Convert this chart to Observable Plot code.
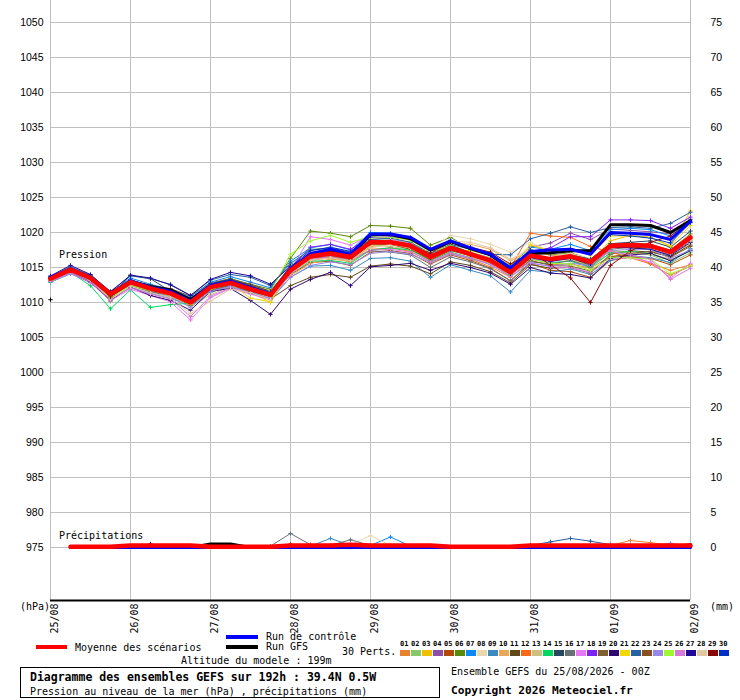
<!DOCTYPE html>
<html><head><meta charset="utf-8">
<script src="https://cdn.jsdelivr.net/npm/d3@7"></script>
<script src="https://cdn.jsdelivr.net/npm/@observablehq/plot@0.6"></script>
<style>
body{margin:0;background:#fff;}
#wrap{position:relative;width:740px;height:700px;font-family:"DejaVu Sans Mono",monospace;font-size:10px;color:#000;overflow:hidden;}
#chart{position:absolute;left:0;top:0;}
.t{position:absolute;white-space:pre;line-height:12px;}
.b{font-weight:bold;}
.sw{position:absolute;}
</style></head><body>
<div id="wrap">
<div id="chart"></div>
<div class="t" style="left:59px;top:249px;">Pression</div>
<div class="t" style="left:59px;top:530px;">Précipitations</div>
<div class="t" style="left:20px;top:601px;">(hPa)</div>
<div class="t" style="left:710px;top:601px;">(mm)</div>

<div class="sw" style="left:36px;top:645px;width:31px;height:4px;background:#ff0000;"></div>
<div class="t" style="left:75px;top:642px;">Moyenne des scénarios</div>
<div class="sw" style="left:226px;top:635px;width:32px;height:4px;background:#0000ff;"></div>
<div class="t" style="left:266px;top:631px;">Run de contrôle</div>
<div class="sw" style="left:226px;top:645px;width:32px;height:4px;background:#000000;"></div>
<div class="t" style="left:266px;top:641px;">Run GFS</div>
<div class="t" style="left:181px;top:655px;">Altitude du modele : 199m</div>
<div class="t" style="left:342px;top:646px;">30 Perts.</div>
<div id="perts"></div>

<div class="sw" style="left:20px;top:667px;width:420px;height:31px;border:1px solid #000;box-sizing:border-box;"></div>
<div class="t b" style="left:30px;top:671px;font-size:11.5px;">Diagramme des ensembles GEFS sur 192h : 39.4N 0.5W</div>
<div class="t" style="left:30px;top:686px;">Pression au niveau de la mer (hPa) , précipitations (mm)</div>
<div class="t" style="left:451px;top:666px;">Ensemble GEFS du 25/08/2026 - 00Z</div>
<div class="t b" style="left:451px;top:685px;font-size:11.2px;">Copyright 2026 Meteociel.fr</div>
</div>
<script>
// ---- time axis ----
const steps = [0,6,12,18,24,30,36,42,48,54,60,66,72,78,84,90,96,102,108,114,120,126,132,138,144,150,156,162,168,174,180,186,192];
const dayTicks = [0,24,48,72,96,120,144,168,192];
const dayLabels = ["25/08","26/08","27/08","28/08","29/08","30/08","31/08","01/09","02/09"];
const hpaTicks = [975,980,985,990,995,1000,1005,1010,1015,1020,1025,1030,1035,1040,1045,1050];
const mmTicks = [0,5,10,15,20,25,30,35,40,45,50,55,60,65,70,75];
const precipZero = 975; // hPa level where 0 mm sits on the right axis

const memberNames = ["01","02","03","04","05","06","07","08","09","10","11","12","13","14","15","16","17","18","19","20","21","22","23","24","25","26","27","28","29","30"];
const memberColors = ["#e8822e","#88c86a","#f0c000","#8e4ea8","#b04a0a","#5a8a0a","#0a88f8","#e8d8b0","#3a8cc0","#e8a858","#604818","#f86818","#d0c080","#00d860","#284860","#687078","#e878f8","#8020f8","#806030","#300870","#f0d800","#2860a0","#8a5020","#9888e8","#a0f830","#d878d8","#200898","#e0c8a0","#880808","#0030c0"];

// ---- sea level pressure (hPa), one value per step ----
const p01 = [1013.2,1014.5,1013.3,1010.8,1012.6,1011.8,1011.0,1009.8,1012.0,1012.7,1011.7,1010.8, 1014.2,1016.0,1016.4,1015.8,1017.6,1017.8,1017.3,1015.8,1017.0,1016.2,1015.1,1013.6, 1016.0,1015.4,1015.5,1014.9,1016.6,1016.8,1015.6,1014.6,1015.4];
const p02 = [1013.6,1014.9,1013.8,1011.3,1013.1,1012.3,1011.6,1010.3,1012.5,1013.1,1012.1,1011.4, 1015.3,1017.6,1017.8,1017.0,1019.2,1019.0,1018.6,1017.0,1018.2,1017.2,1016.4,1014.9, 1017.0,1016.3,1016.0,1015.3,1017.0,1017.2,1016.8,1015.6,1017.1];
const p03 = [1013.3,1014.6,1013.4,1010.9,1012.7,1011.9,1011.1,1009.9,1012.0,1012.6,1011.5,1010.0, 1014.4,1016.8,1017.2,1016.0,1018.0,1018.3,1017.8,1016.1,1017.5,1017.4,1016.8,1015.4, 1018.2,1017.4,1017.0,1015.9,1018.8,1019.6,1019.3,1018.0,1023.1];
const p04 = [1013.5,1014.8,1013.6,1011.0,1013.0,1012.1,1011.4,1010.2,1012.4,1013.0,1011.9,1011.0, 1014.8,1016.9,1017.4,1016.8,1019.0,1018.8,1018.4,1016.9,1018.0,1016.8,1015.8,1014.0, 1017.9,1018.5,1019.9,1019.0,1020.5,1020.3,1020.1,1019.8,1021.9];
const p05 = [1013.7,1014.9,1013.9,1011.5,1013.2,1012.4,1012.0,1010.9,1012.8,1013.4,1012.5,1011.2, 1014.0,1015.7,1015.9,1015.3,1017.2,1017.4,1017.0,1015.5,1016.8,1016.0,1014.9,1013.1, 1015.6,1014.6,1014.4,1013.6,1016.0,1016.5,1016.3,1015.4,1016.8];
const p06 = [1013.4,1014.7,1013.6,1011.2,1013.1,1012.5,1011.8,1010.6,1012.6,1013.4,1012.6,1011.9, 1016.3,1020.2,1019.9,1019.4,1021.0,1020.9,1020.6,1018.2,1019.3,1017.7,1016.8,1015.0, 1017.4,1016.8,1017.1,1016.2,1018.4,1018.5,1018.3,1017.5,1019.8];
const p07 = [1013.6,1015.0,1013.8,1011.4,1013.5,1012.6,1011.9,1010.8,1012.9,1013.7,1012.9,1012.1, 1015.9,1017.8,1018.3,1017.5,1020.0,1019.9,1019.3,1017.3,1018.9,1017.8,1016.9,1015.2, 1017.9,1017.6,1018.3,1017.4,1020.4,1020.6,1020.4,1019.5,1021.8];
const p08 = [1013.1,1014.4,1013.2,1010.6,1012.5,1011.6,1010.9,1009.6,1011.3,1012.6,1012.2,1011.7, 1014.9,1016.9,1017.6,1017.2,1019.1,1019.3,1018.9,1017.6,1019.6,1019.1,1018.3,1017.2, 1018.6,1017.3,1017.0,1016.3,1017.8,1018.0,1017.5,1016.4,1018.4];
const p09 = [1012.9,1014.1,1012.9,1010.4,1012.2,1011.3,1010.6,1009.5,1011.5,1012.2,1011.3,1010.4, 1013.6,1015.2,1015.3,1014.6,1016.3,1016.4,1015.9,1013.6,1015.4,1014.6,1013.8,1011.5, 1014.6,1014.3,1014.8,1014.0,1016.0,1016.7,1016.4,1015.7,1017.7];
const p10 = [1013.5,1014.8,1013.7,1011.1,1012.9,1012.1,1011.5,1010.3,1012.3,1013.0,1012.0,1011.3, 1013.8,1015.6,1016.2,1015.9,1018.0,1018.4,1018.4,1016.8,1018.6,1018.3,1017.6,1016.0, 1017.2,1016.8,1016.4,1015.2,1017.4,1017.2,1016.9,1016.2,1018.6];
const p11 = [1013.0,1014.3,1013.0,1010.2,1012.4,1011.5,1011.0,1009.6,1011.8,1012.4,1011.4,1010.5, 1012.4,1013.6,1014.0,1013.6,1015.2,1015.5,1015.2,1014.1,1015.8,1015.3,1014.4,1012.8, 1015.4,1014.9,1015.0,1014.2,1016.9,1017.4,1017.2,1016.6,1018.2];
const p12 = [1013.3,1014.6,1013.5,1011.0,1012.8,1011.9,1011.2,1010.0,1012.1,1012.8,1011.8,1011.0, 1014.4,1016.3,1016.6,1016.2,1018.3,1018.5,1018.0,1016.4,1017.7,1016.9,1016.2,1015.0, 1019.9,1019.5,1019.3,1018.0,1017.2,1016.4,1015.5,1013.9,1015.2];
const p13 = [1013.2,1014.4,1013.3,1010.7,1012.6,1011.7,1010.9,1009.4,1011.1,1012.3,1011.6,1010.9, 1014.7,1016.5,1016.8,1016.6,1018.2,1018.0,1017.6,1016.2,1017.6,1017.0,1016.3,1014.9, 1016.5,1016.2,1016.1,1015.5,1017.3,1017.2,1016.9,1016.0,1017.5];
const p14 = [1012.9,1014.3,1012.4,1009.1,1011.8,1009.3,1009.7,1009.9,1011.9,1012.6,1011.5,1010.6, 1014.1,1015.9,1016.0,1015.6,1017.5,1017.8,1017.5,1016.0,1017.2,1016.4,1015.5,1014.0, 1016.2,1015.7,1015.9,1015.0,1017.1,1017.3,1017.0,1016.0,1017.4];
const p15 = [1013.6,1014.8,1013.6,1011.0,1013.9,1013.4,1011.6,1010.4,1012.6,1013.2,1012.5,1011.6, 1014.9,1016.9,1017.5,1016.9,1018.9,1018.8,1018.3,1016.7,1018.2,1017.1,1016.1,1014.3, 1016.5,1015.9,1016.8,1016.2,1018.4,1018.6,1018.8,1017.9,1020.2];
const p16 = [1013.4,1014.6,1013.3,1010.8,1012.5,1011.6,1011.0,1009.8,1011.7,1012.4,1011.6,1010.9, 1014.6,1016.6,1016.7,1016.2,1017.4,1017.2,1016.8,1015.0,1016.5,1015.8,1014.8,1013.1, 1015.8,1015.5,1016.0,1015.1,1017.6,1017.9,1017.6,1016.8,1018.8];
const p17 = [1013.0,1014.2,1012.8,1010.3,1011.9,1011.0,1010.1,1007.5,1010.7,1012.0,1011.2,1010.4, 1014.6,1019.4,1019.0,1018.2,1019.6,1019.0,1018.4,1016.6,1017.8,1016.9,1016.0,1014.3, 1015.7,1015.1,1015.0,1014.3,1016.2,1016.4,1015.8,1013.5,1015.6];
const p18 = [1013.5,1014.8,1013.7,1011.2,1013.1,1012.2,1011.5,1010.1,1012.3,1013.0,1012.1,1011.2, 1015.0,1017.9,1018.3,1017.6,1019.3,1019.4,1019.1,1017.4,1018.7,1017.6,1016.7,1015.0, 1017.3,1017.8,1019.4,1019.4,1021.8,1021.8,1021.7,1020.6,1022.2];
const p19 = [1013.2,1014.5,1013.2,1010.6,1012.7,1011.8,1011.2,1010.0,1012.0,1012.5,1011.6,1010.9, 1014.3,1016.3,1016.5,1016.1,1018.3,1018.3,1017.9,1016.4,1017.6,1016.7,1015.7,1014.0, 1016.0,1015.3,1015.2,1014.5,1016.5,1017.0,1017.3,1016.5,1018.0];
const p20 = [1013.1,1014.3,1012.9,1010.4,1012.2,1011.0,1010.3,1008.9,1011.6,1012.0,1010.3,1008.3, 1011.9,1013.3,1014.3,1012.4,1015.1,1015.3,1015.6,1014.6,1015.6,1015.0,1014.2,1012.6, 1015.0,1014.2,1014.0,1013.5,1016.3,1016.8,1017.0,1016.0,1017.4];
const p21 = [1013.3,1014.6,1013.4,1010.9,1012.8,1011.8,1011.0,1009.7,1011.9,1012.7,1010.6,1010.1, 1014.5,1016.5,1016.9,1016.3,1018.4,1018.4,1017.9,1016.4,1017.6,1016.6,1015.6,1013.8, 1018.2,1017.4,1017.6,1016.8,1019.5,1019.5,1019.3,1018.1,1021.0];
const p22 = [1013.7,1015.1,1013.9,1011.6,1013.8,1013.4,1012.6,1011.0,1013.2,1014.0,1013.6,1012.4, 1015.6,1017.5,1017.8,1017.2,1019.0,1019.2,1018.6,1017.0,1018.3,1017.6,1016.9,1016.8, 1019.1,1019.9,1020.8,1020.0,1020.7,1020.8,1020.6,1021.3,1022.9];
const p23 = [1013.4,1014.7,1013.5,1011.0,1012.9,1012.3,1011.9,1010.6,1012.5,1013.3,1012.6,1011.6, 1015.2,1016.4,1016.8,1016.3,1018.4,1018.3,1017.6,1016.1,1017.4,1016.7,1016.0,1014.4, 1016.8,1016.3,1016.4,1015.3,1017.8,1017.9,1017.8,1017.1,1019.1];
const p24 = [1013.1,1014.3,1013.1,1010.4,1012.3,1011.4,1010.8,1009.3,1011.6,1012.3,1011.4,1010.6, 1013.6,1015.3,1015.8,1015.4,1017.0,1017.3,1016.9,1015.7,1016.9,1016.3,1015.4,1013.7, 1015.6,1015.2,1015.6,1015.3,1017.4,1017.6,1017.6,1016.3,1017.5];
const p25 = [1013.2,1014.5,1013.2,1010.7,1012.4,1011.7,1011.2,1010.0,1012.3,1012.9,1012.2,1011.5, 1016.9,1018.8,1019.6,1018.6,1019.4,1019.3,1018.9,1017.2,1018.1,1016.8,1015.8,1014.0, 1016.2,1015.6,1015.5,1014.6,1016.4,1016.4,1016.2,1014.1,1015.2];
const p26 = [1013.0,1014.2,1012.9,1010.5,1012.1,1011.2,1010.5,1008.0,1010.9,1012.1,1011.4,1010.6, 1014.0,1016.2,1016.5,1016.0,1017.5,1017.6,1017.2,1015.9,1017.1,1016.4,1015.5,1013.8, 1016.3,1015.8,1016.3,1015.8,1017.3,1016.8,1016.2,1013.3,1014.9];
const p27 = [1013.8,1015.3,1014.0,1011.5,1013.9,1013.5,1012.5,1011.0,1013.3,1014.3,1013.8,1012.6, 1015.2,1016.8,1017.0,1016.4,1018.5,1018.6,1018.0,1016.4,1017.6,1016.8,1015.9,1014.1, 1016.4,1015.9,1016.3,1015.5,1017.9,1017.8,1017.6,1016.7,1018.6];
const p28 = [1013.3,1014.5,1013.2,1010.5,1012.3,1011.4,1010.7,1008.4,1010.2,1011.9,1011.4,1010.4, 1014.2,1016.0,1016.4,1016.0,1017.8,1018.3,1017.8,1017.3,1018.8,1018.6,1017.8,1016.2, 1017.6,1017.0,1016.8,1015.9,1018.0,1018.3,1018.0,1017.0,1018.9];
const p29 = [1013.4,1014.7,1013.4,1010.8,1012.8,1012.0,1011.3,1010.2,1012.3,1013.1,1012.3,1011.4, 1014.8,1016.7,1017.3,1016.8,1018.8,1018.7,1018.0,1017.1,1018.6,1017.9,1017.2,1015.5, 1017.1,1015.4,1013.5,1010.0,1015.3,1017.4,1018.6,1019.5,1021.5];
const p30 = [1013.6,1014.9,1013.7,1011.3,1013.2,1012.3,1011.7,1010.6,1012.7,1013.3,1012.3,1011.5, 1015.1,1017.4,1017.9,1017.3,1019.5,1019.7,1019.2,1017.6,1018.8,1017.9,1017.0,1015.1, 1017.5,1017.0,1017.7,1017.2,1019.7,1019.5,1019.2,1018.5,1021.4];
const members = [p01,p02,p03,p04,p05,p06,p07,p08,p09,p10,p11,p12,p13,p14,p15,p16,p17,p18,p19,p20,p21,p22,p23,p24,p25,p26,p27,p28,p29,p30];

const controlRun = [1013.6,1014.8,1013.6,1011.2,1013.1,1012.2,1011.6,1010.2,1012.4,1013.0,1012.1,1011.2, 1014.8,1017.0,1017.6,1016.9,1019.8,1019.8,1019.3,1017.6,1018.8,1017.8,1016.9,1014.9, 1017.3,1017.5,1017.6,1016.9,1020.0,1019.9,1019.7,1019.0,1021.6];
const gfsRun = [null,1014.7,1013.5,1011.1,1013.0,1012.3,1011.8,1010.4,1012.3,1012.9,1012.0,1011.1, 1014.7,1016.8,1017.3,1016.7,1019.7,1019.7,1019.1,1017.5,1018.7,1017.7,1016.8,1014.8, 1017.0,1017.1,1017.4,1017.4,1021.1,1021.1,1021.0,1020.0,1021.7];
const gfsAnalysis = 1010.4;
const meanRun = [1013.4,1014.7,1013.5,1011.2,1012.9,1012.0,1011.3,1010.0,1012.2,1012.8,1011.9,1011.1, 1014.6,1016.6,1017.0,1016.5,1018.6,1018.6,1018.1,1016.5,1017.8,1016.9,1016.0,1014.3, 1016.7,1016.2,1016.6,1015.8,1018.1,1018.2,1018.1,1017.2,1019.3];

// ---- 6-hourly precipitation (mm), steps 6h..192h ----
const r00 = [0,0,0,0,0,0,0,0, 0,0,0,0,0,0,0,0, 0,0,0,0,0,0,0,0, 0,0,0,0,0,0,0,0];
const r01 = [0,0,0,0,0,0,0,0, 0,0,0,0.4,0,0,0,0, 0,0,0,0,0,0,0,0, 0,0,0,0.3,1.0,0.7,0.3,0];
const r05 = [0,0,0,0,0,0,0,0, 0,0,0,0.5,0,0,0,0, 0,0,0,0,0,0,0,0, 0,0,0,0,0,0,0,0];
const r07 = [0,0,0,0,0,0,0,0, 0,0,0,0,0,0,0,0.3, 1.5,0.2,0,0,0,0,0,0, 0,0,0,0,0,0,0,0];
const r08 = [0,0,0,0,0,0,0,0, 0,0,0,0,0,0,0.4,1.7, 0.3,0,0,0,0,0,0,0, 0,0,0,0,0,0,0,0];
const r09 = [0,0,0,0,0,0,0,0, 0,0,0,0,0.2,1.3,0.3,0, 0,0,0,0,0,0,0,0, 0,0,0,0,0,0,0,0];
const r13 = [0,0,0,0,0,0,0,0, 0,0,0,0,0,0,0,0.3, 0,0,0,0,0,0,0,0, 0,0,0,0,0,0,0,0];
const r14 = [0,0,0,0,0,0,0,0, 0,0,0,0,0.2,0,0,0, 0,0,0,0,0,0,0,0, 0,0,0,0,0,0,0,0];
const r16 = [0,0,0,0,0,0,0,0, 0,0,0.2,2.0,0.4,0.3,1.1,0.3, 0,0,0,0,0,0,0,0, 0,0,0,0,0,0,0,0];
const r22 = [0,0,0,0,0,0,0,0, 0,0,0,0,0,0,0,0, 0,0,0,0,0,0,0,0.3, 0.8,1.3,0.9,0.4,0,0,0,0];
const r24 = [0,0,0,0,0,0,0,0, 0,0,0,0,0,0,0,0, 0,0,0,0,0,0,0,0, 0,0,0,0.3,0.3,0.3,0.6,0.2];
const r27 = [0,0,0,0,0.5,0,0,0, 0,0,0,0,0,0,0,0, 0,0,0,0,0,0,0,0, 0,0,0,0,0,0,0,0];
const memberPrecip = [r01,r00,r00,r00,r05,r00,r07,r08,r09,r00,r00,r00,r13,r14,r00,r16,r00,r00,r00,r00,r00,r22,r00,r24,r00,r00,r27,r00,r00,r00];
const controlPrecip = [0,0,0,0,0,0,0,0, 0,0,0,0,0,0,0,0, 0,0,0,0,0,0,0,0, 0,0,0,0,0,0,0,0];
const gfsPrecip = [0,0,0,0,0,0,0,0.5, 0.5,0,0,0,0,0,0,0, 0,0,0,0,0,0,0,0, 0,0,0,0,0,0,0,0.4];
const meanPrecip = [0.1,0.1,0.1,0.3,0.3,0.3,0.3,0.1, 0.1,0.1,0.1,0.3,0.3,0.3,0.4,0.3, 0.3,0.3,0.3,0.1,0.1,0.1,0.1,0.3, 0.3,0.3,0.3,0.3,0.3,0.3,0.3,0.3];

// ---- tables ----
const memberRows = members.flatMap((arr, m) => arr.map((p, i) => ({m, h: steps[i], p, c: memberColors[m]})));
const memberPrecipRows = memberPrecip.flatMap((arr, m) => arr.map((mm, i) => ({m, h: steps[i + 1], v: precipZero + mm, c: memberColors[m]})));
const runRows = arr => arr.map((p, i) => ({h: steps[i], p})).filter(d => d.p != null);
const precipRows = arr => arr.map((mm, i) => ({h: steps[i + 1], v: precipZero + mm}));

const yTop = 1050 + 22 / 7;   // frame edges so that 7 px = 1 hPa
const yBot = 975 - 53 / 7;

const chart = Plot.plot({
  width: 740, height: 640,
  marginLeft: 50, marginRight: 50, marginTop: 0, marginBottom: 40,
  x: {domain: [0, 192], axis: null},
  y: {domain: [yBot, yTop], axis: null},
  color: {type: "identity"},
  style: {fontFamily: "Liberation Sans, Arial, sans-serif", fontSize: "10.5px", background: "white", overflow: "visible"},
  marks: [
    Plot.ruleY(hpaTicks, {stroke: "#c0c0c0", strokeWidth: 1}),
    Plot.ruleX(dayTicks, {stroke: "#c0c0c0", strokeWidth: 1}),
    Plot.ruleY([yBot], {stroke: "#000", strokeWidth: 2}),
    // precipitation
    Plot.line(memberPrecipRows, {x: "h", y: "v", z: "m", stroke: "c", strokeWidth: 1}),
    Plot.dot(memberPrecipRows.filter(d => d.v > precipZero), {x: "h", y: "v", stroke: "c", symbol: "plus", r: 1.5, strokeWidth: 1}),
    Plot.line(precipRows(gfsPrecip), {x: "h", y: "v", stroke: "#000", strokeWidth: 3}),
    Plot.line(precipRows(controlPrecip), {x: "h", y: "v", stroke: "#0000ff", strokeWidth: 3}),
    Plot.line(precipRows(meanPrecip), {x: "h", y: "v", stroke: "#ff0000", strokeWidth: 4.5}),
    // pressure
    Plot.line(memberRows, {x: "h", y: "p", z: "m", stroke: "c", strokeWidth: 1}),
    Plot.dot(memberRows, {x: "h", y: "p", stroke: "c", symbol: "plus", r: 1.5, strokeWidth: 1}),
    Plot.line(runRows(gfsRun), {x: "h", y: "p", stroke: "#000", strokeWidth: 3}),
    Plot.dot([gfsAnalysis], {x: () => steps[0], y: d => d, stroke: "#000", symbol: "plus", r: 1.5, strokeWidth: 1}),
    Plot.line(runRows(controlRun), {x: "h", y: "p", stroke: "#0000ff", strokeWidth: 3}),
    Plot.line(runRows(meanRun), {x: "h", y: "p", stroke: "#ff0000", strokeWidth: 4.5}),
    // axes labels
    Plot.text(hpaTicks, {y: d => d, text: d => String(d), frameAnchor: "left", textAnchor: "end", dx: -7, fill: "#000"}),
    Plot.text(mmTicks, {y: d => precipZero + d, text: d => String(d), frameAnchor: "right", textAnchor: "start", dx: 20, fill: "#000"}),
    Plot.text(dayTicks, {x: d => d, text: (d, i) => dayLabels[i], frameAnchor: "bottom", rotate: -90, textAnchor: "end", dx: 7, dy: 3, fontFamily: "DejaVu Sans Mono", fontSize: 10, fill: "#000"})
  ]
});
document.getElementById("chart").appendChild(chart);

// perturbation colour legend
const perts = document.getElementById("perts");
memberNames.forEach((name, i) => {
  const lab = document.createElement("div");
  lab.className = "t b";
  lab.style.cssText = `left:${400 + i * 11}px;top:640px;font-size:7px;line-height:8px;`;
  lab.textContent = name;
  perts.appendChild(lab);
  const sq = document.createElement("div");
  sq.className = "sw";
  sq.style.cssText = `left:${400 + i * 11}px;top:650px;width:10px;height:6px;background:${memberColors[i]};`;
  perts.appendChild(sq);
});
</script>
</body></html>
